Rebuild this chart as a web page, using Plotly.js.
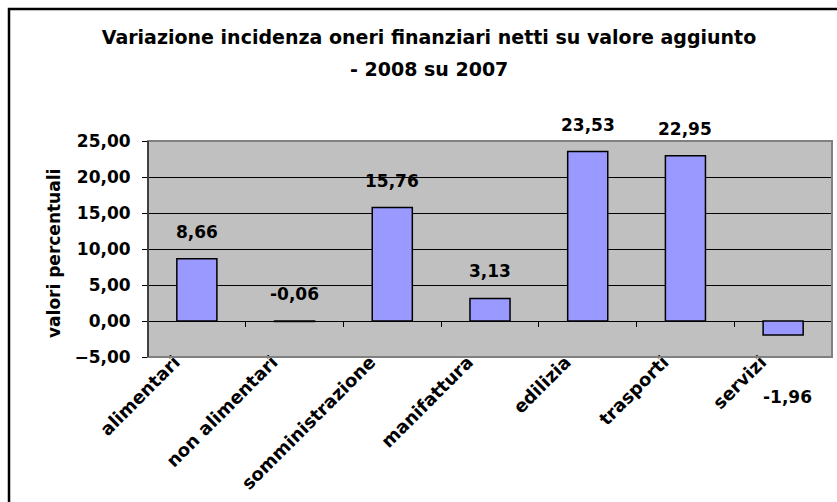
<!DOCTYPE html>
<html>
<head>
<meta charset="utf-8">
<script src="https://cdn.plot.ly/plotly-3.0.1.min.js"></script>
<style>html,body{margin:0;padding:0;background:#fff;overflow:hidden;}#chart{width:837px;height:502px;}</style>
</head>
<body>
<div id="chart"></div>
<script>
const categories = ["alimentari", "non alimentari", "somministrazione", "manifattura", "edilizia", "trasporti", "servizi"];
const values = [8.66, -0.06, 15.76, 3.13, 23.53, 22.95, -1.96];
const yTicks = [-5, 0, 5, 10, 15, 20, 25];
const titleLine1 = "Variazione incidenza oneri finanziari netti su valore aggiunto";
const titleLine2 = "- 2008 su 2007";
const yTitle = "valori percentuali";

const W = 837, H = 502;
const m = {l: 148, r: 5, t: 141, b: 145};
const pw = W - m.l - m.r, ph = H - m.t - m.b;
const px2x = p => (p - m.l) / pw;
const py2y = p => (H - m.b - p) / ph;
const FONT = "DejaVu Sans, Verdana, sans-serif";
const fmt = v => v.toFixed(2).replace('.', ',');

const annotations = values.map((v, i) => ({
  x: categories[i], y: v, xref: 'x', yref: 'y',
  text: fmt(v), showarrow: false,
  yshift: v < -1 ? -62 : 27,
  xshift: v < -1 ? 4 : 0,
  font: {family: FONT, size: 17, color: '#000', weight: 'bold'}
}));
annotations.push({
  xref: 'paper', yref: 'paper', x: px2x(54), y: py2y(254),
  text: yTitle, textangle: -90, showarrow: false,
  xanchor: 'center', yanchor: 'middle',
  font: {family: FONT, size: 17, color: '#000', weight: 'bold'}
});
annotations.push({
  xref: 'paper', yref: 'paper', x: px2x(429), y: py2y(69),
  text: titleLine2, showarrow: false, xanchor: 'center', yanchor: 'middle',
  font: {family: FONT, size: 19, color: '#000', weight: 'bold'}
});

const trace = {
  type: 'bar', x: categories, y: values,
  marker: {color: '#9999FF', line: {color: '#000', width: 1.5}},
  hoverinfo: 'none'
};
const boundaryTicks = categories.slice(0, -1).map((c, i) => i + 0.5);
const tickTrace = {
  type: 'scatter', mode: 'markers', x: boundaryTicks, y: boundaryTicks.map(() => 0),
  marker: {size: 1, opacity: 0},
  xaxis: 'x2', yaxis: 'y', hoverinfo: 'none', showlegend: false
};

const layout = {
  width: W, height: H,
  margin: m,
  paper_bgcolor: '#fff',
  plot_bgcolor: '#C0C0C0',
  showlegend: false,
  bargap: 0.59,
  separators: ',.',
  title: {
    text: titleLine1, x: 429 / W, xanchor: 'center',
    y: 1 - 37 / H, yanchor: 'middle',
    font: {family: FONT, size: 19, color: '#000', weight: 'bold'}
  },
  xaxis: {
    type: 'category', range: [-0.5, 6.5],
    tickangle: -45, ticks: '', showline: false, showgrid: false,
    ticklabelshift: -22, ticklabelstandoff: -10,
    tickfont: {family: FONT, size: 18, color: '#000', weight: 'bold'},
    fixedrange: true
  },
  xaxis2: {
    overlaying: 'x', anchor: 'free', position: 5 / 30,
    range: [-0.5, 6.5], type: 'linear', visible: true,
    tickvals: boundaryTicks, showticklabels: false,
    ticks: 'outside', ticklen: 5, tickcolor: '#000', tickwidth: 1,
    showgrid: false, showline: false, zeroline: false, fixedrange: true
  },
  yaxis: {
    range: [-5, 25], tickvals: yTicks, tickformat: '.2f',
    ticks: 'outside', ticklen: 5, tickcolor: '#000',
    ticklabelstandoff: 8,
    showline: true, linecolor: '#000', linewidth: 1,
    gridcolor: '#000', gridwidth: 1,
    zeroline: true, zerolinecolor: '#000', zerolinewidth: 1,
    tickfont: {family: FONT, size: 17, color: '#000', weight: 'bold'},
    fixedrange: true
  },
  annotations: annotations,
  shapes: [
    {type: 'rect', xref: 'paper', yref: 'paper', x0: 0, x1: 1, y0: 0, y1: 1,
     line: {color: '#808080', width: 2}, layer: 'above'},
    {type: 'line', xref: 'paper', yref: 'paper', x0: 0, x1: 0, y0: 0, y1: 1,
     line: {color: '#000', width: 1}, layer: 'above'},
    {type: 'rect', xref: 'paper', yref: 'paper',
     x0: px2x(9), x1: px2x(850), y0: py2y(520), y1: py2y(9),
     line: {color: '#000', width: 2.5}, layer: 'below'}
  ]
};

Plotly.newPlot('chart', [trace, tickTrace], layout, {staticPlot: true, displayModeBar: false});
</script>
</body>
</html>
